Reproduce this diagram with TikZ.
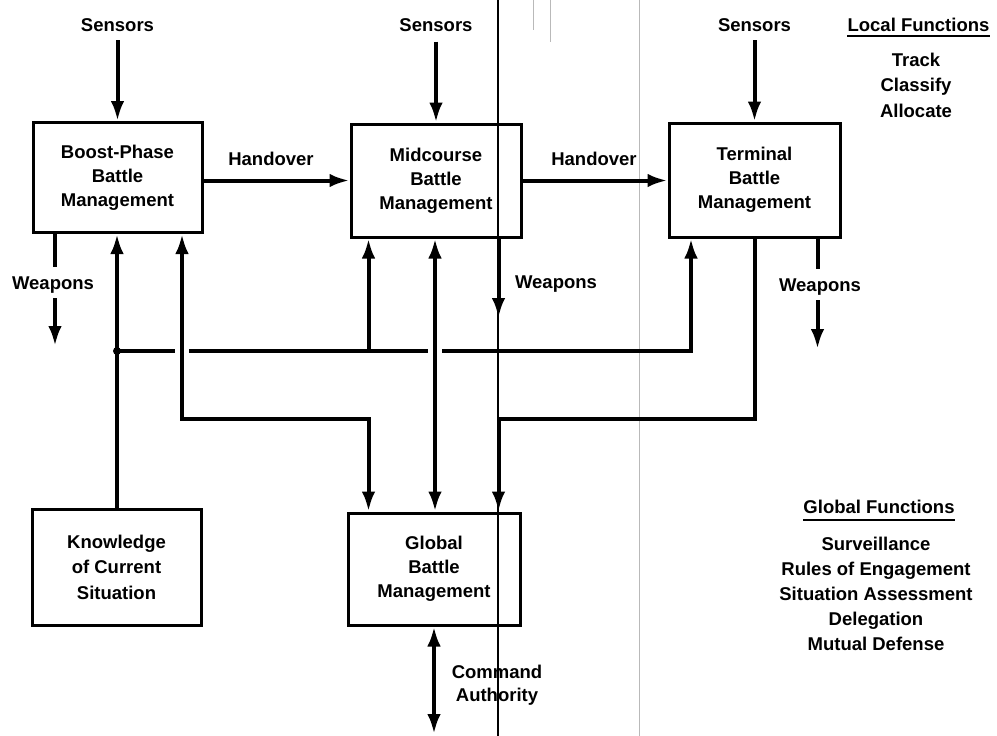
\documentclass[tikz,border=0pt]{standalone}
\usepackage{fontspec}
\setmainfont{Liberation Sans}
\usetikzlibrary{arrows.meta}
\begin{document}
\begin{tikzpicture}[x=1pt,y=-1pt,
  >={Latex[length=20pt,width=13.5pt]},
  every node/.style={font=\bfseries\fontsize{18.5}{24}\selectfont},
  box/.style={draw,line width=3pt,minimum width=170pt,minimum height=112pt,
              align=center,inner sep=0pt},
  conn/.style={line width=4pt},
  lbl/.style={anchor=base,inner sep=0pt},
  foldline/.style={line width=2pt},
  faintline/.style={gray!55,line width=0.9pt},
  uline/.style={line width=2pt}]
\useasboundingbox (0,0) rectangle (997,736);

% page fold lines
\draw[foldline] (498,0) -- (498,736);
\draw[faintline] (639,0) -- (639,736);
\draw[faintline] (533,0) -- (533,30);
\draw[faintline] (550,0) -- (550,42);

% battle management boxes
\node[box,minimum width=169pt,minimum height=110pt] (boost) at (117.5,177.5) {Boost-Phase\\Battle\\Management};
\node[box,minimum height=113pt] (mid) at (436,180.5) {Midcourse\\Battle\\Management};
\node[box,minimum width=171pt,minimum height=114pt] (term) at (754.5,180) {Terminal\\Battle\\Management};
\node[box,minimum width=169pt,minimum height=116pt,
      font=\bfseries\fontsize{18.5}{25.5}\selectfont] (know) at (116.5,567) {Knowledge\\of Current\\Situation};
\node[box,minimum width=172pt] (glob) at (434,569) {Global\\Battle\\Management};

% sensors
\node[lbl] (s1) at (117.5,31.5) {Sensors};
\node[lbl] (s2) at (436,31.5) {Sensors};
\node[lbl] (s3) at (754.5,31.5) {Sensors};
\draw[conn,->] ([yshift=-8.5pt]s1.base) -- (s1.base |- boost.north);
\draw[conn,->] ([yshift=-10pt]s2.base) -- (s2.base |- mid.north);
\draw[conn,->] ([yshift=-8.5pt]s3.base) -- (s3.base |- term.north);

% handover
\node[lbl] (h1) at (271,165) {Handover};
\node[lbl] (h2) at (594,165) {Handover};
\draw[conn,->] (boost.east |- mid.west) -- (mid.west);
\draw[conn,->] (mid.east) -- (mid.east -| term.west);

% weapons
\node[lbl] (w1) at (53,289) {Weapons};
\coordinate (w1a) at (55,267);
\coordinate (w1b) at (55,298);
\coordinate (w1c) at (55,346);
\draw[conn] (boost.south -| w1a) -- (w1a);
\draw[conn,->] (w1b) -- (w1c);

\node[lbl] (w2) at (556,288) {Weapons};
\coordinate (w2c) at (498.5,318);
\draw[conn,->] (mid.south -| w2c) -- (w2c);

\node[lbl] (w3) at (820,291) {Weapons};
\coordinate (w3a) at (817.5,269);
\coordinate (w3b) at (817.5,300);
\coordinate (w3c) at (817.5,349);
\draw[conn] (term.south -| w3a) -- (w3a);
\draw[conn,->] (w3b) -- (w3c);

% situation knowledge bus
\coordinate (j) at (117,351);
\coordinate (g1l) at (175,351);
\coordinate (g1r) at (189,351);
\coordinate (g2l) at (428,351);
\coordinate (g2r) at (442,351);
\coordinate (mb) at (368.5,351);
\coordinate (tb) at (691,351);
\draw[conn,->] (know.north -| j) -- (boost.south -| j);
\fill (j) circle (4pt);
\draw[conn] (j) -- (g1l);
\draw[conn,->] (g1r) -- (tb) -- (tb |- term.south);
\draw[conn,->] (mb) -- (mb |- mid.south);
\draw[white,line width=6pt] (g2l) -- (g2r);

% links to global battle management
\coordinate (bg1) at (182,419);
\coordinate (bg2) at (368.5,419);
\draw[conn,<->] (bg1 |- boost.south) -- (bg1) -- (bg2) -- (bg2 |- glob.north);
\coordinate (mg) at (435,0);
\draw[conn,<->] (mid.south -| mg) -- (glob.north -| mg);
\coordinate (tg1) at (755,419);
\coordinate (tg2) at (498.5,419);
\draw[conn,->] (tg1 |- term.south) -- (tg1) -- (tg2) -- (tg2 |- glob.north);

% command authority
\coordinate (cmd) at (434,734);
\draw[conn,<->] (glob.south) -- (cmd);
\node[align=center,font=\bfseries\fontsize{18.5}{23}\selectfont] (ca) at (497,685) {Command\\Authority};

% function lists
\node[lbl] (lf) at (918.5,31) {Local Functions};
\draw[uline] ([yshift=-4.5pt]lf.base west) -- ([yshift=-4.5pt]lf.base east);
\node[align=center,font=\bfseries\fontsize{18.5}{25.5}\selectfont] (lfl) at (916,85) {Track\\Classify\\Allocate};

\node[lbl] (gf) at (879,513) {Global Functions};
\draw[uline] ([yshift=-6.5pt]gf.base west) -- ([yshift=-6.5pt]gf.base east);
\node[align=center,font=\bfseries\fontsize{18.5}{25}\selectfont] (gfl) at (876,593.5)
  {Surveillance\\Rules of Engagement\\Situation Assessment\\Delegation\\Mutual Defense};
\end{tikzpicture}
\end{document}
